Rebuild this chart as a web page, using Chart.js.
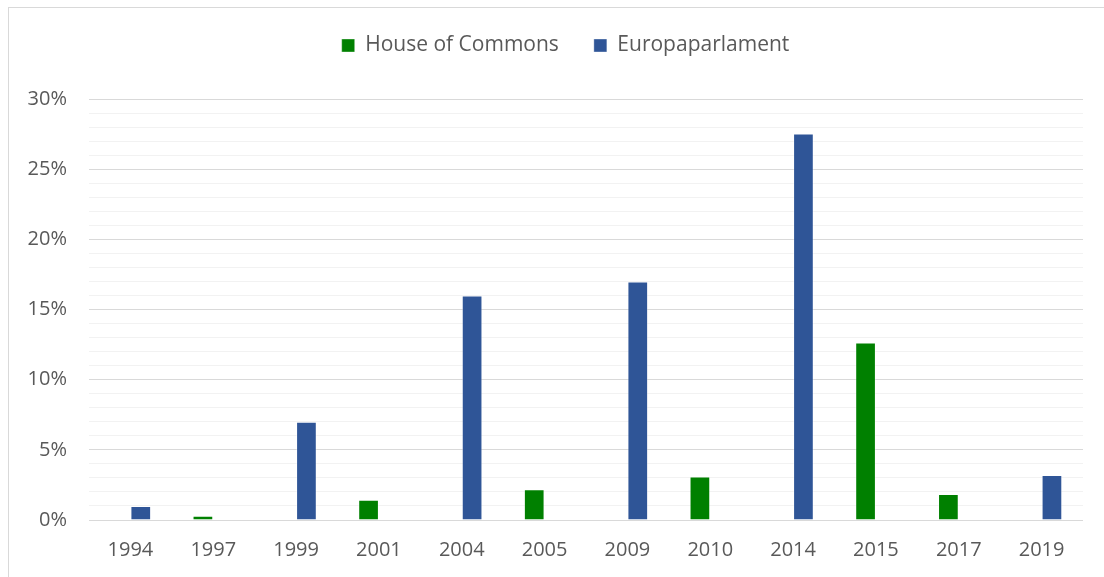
<!DOCTYPE html>
<html>
<head>
<meta charset="utf-8">
<script src="https://cdn.jsdelivr.net/npm/chart.js@4"></script>
<style>
    html, body { margin: 0; padding: 0; background: #fff; overflow: hidden; }
    #frame { position: absolute; left: 8px; top: 7px; width: 1200px; height: 700px; border: 1px solid #d9d9d9; }
    #wrap { position: absolute; left: 0; top: 0; width: 1104px; height: 581px; }
</style>
</head>
<body>
<div id="frame"></div>
<div id="wrap"><canvas id="electionChart"></canvas></div>
<script>
const years = ['1994', '1997', '1999', '2001', '2004', '2005', '2009', '2010', '2014', '2015', '2017', '2019'];
const houseOfCommons = [null, 0.3, null, 1.45, null, 2.2, null, 3.1, null, 12.65, 1.85, null];
const europaparlament = [1.0, null, 7.0, null, 16.0, null, 17.0, null, 27.55, null, null, 3.2];
const yTicks = [0, 5, 10, 15, 20, 25, 30];

const textColor = '#595959';
const fontFamily = "'Open Sans', sans-serif";

// extra gap under the legend, and nudge it right a bit
const legendTweak = {
    id: 'legendTweak',
    beforeInit(chart) {
        const fit = chart.legend.fit;
        chart.legend.fit = function () {
            fit.call(this);
            this.height += 33;
        };
    },
    afterLayout(chart) {
        chart.legend.left += 24;
        chart.legend.right += 24;
    }
};

const ctx = document.getElementById('electionChart').getContext('2d');
new Chart(ctx, {
    type: 'bar',
    data: {
        labels: years,
        datasets: [{
            label: 'House of Commons',
            data: houseOfCommons,
            backgroundColor: '#008000',
            borderColor: 'rgba(255,255,255,0.35)',
            borderWidth: 1
        }, {
            label: 'Europaparlament',
            data: europaparlament,
            backgroundColor: '#2f5597',
            borderColor: 'rgba(255,255,255,0.35)',
            borderWidth: 1
        }]
    },
    options: {
        responsive: true,
        maintainAspectRatio: false,
        animation: false,
        categoryPercentage: 0.5,
        barPercentage: 1,
        layout: {
            padding: { top: 0, right: 21, left: 0, bottom: 1 }
        },
        plugins: {
            legend: {
                position: 'top',
                labels: {
                    boxWidth: 13,
                    boxHeight: 13,
                    padding: 35,
                    color: textColor,
                    font: { family: fontFamily, size: 21 }
                }
            },
            tooltip: { enabled: false }
        },
        scales: {
            y: {
                min: 0,
                max: 30,
                afterFit(scale) { scale.width = 89; },
                ticks: {
                    stepSize: 1,
                    autoSkip: false,
                    padding: 22,
                    color: textColor,
                    font: { family: fontFamily, size: 20 },
                    callback: v => yTicks.includes(v) ? v + '%' : ''
                },
                grid: {
                    drawTicks: false,
                    color: c => yTicks.includes(c.tick.value) ? '#d9d9d9' : '#f2f2f2',
                    lineWidth: 1
                },
                border: { display: false }
            },
            x: {
                ticks: {
                    padding: 18,
                    color: textColor,
                    font: { family: fontFamily, size: 20 }
                },
                grid: { display: false, drawTicks: false },
                border: { display: false }
            }
        }
    },
    plugins: [legendTweak]
});
</script>
</body>
</html>
